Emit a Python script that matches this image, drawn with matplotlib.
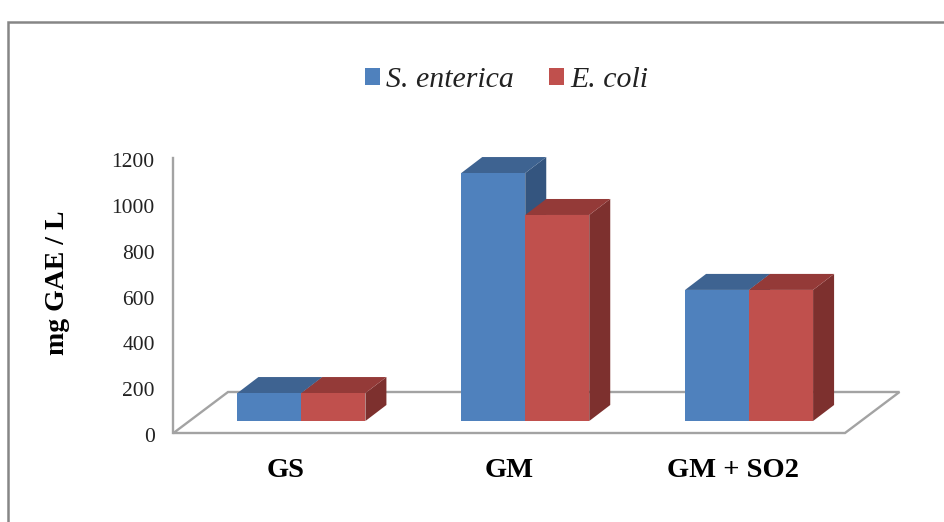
import matplotlib
matplotlib.use("Agg")
import matplotlib.pyplot as plt
from matplotlib.patches import Patch, Polygon
from matplotlib.lines import Line2D
from matplotlib.font_manager import FontProperties
from matplotlib.transforms import ScaledTranslation

categories = ["GS", "GM", "GM + SO2"]
s_enterica = [122, 1082, 572]
e_coli = [122, 899, 572]
y_ticks = [0, 200, 400, 600, 800, 1000, 1200]

W, H = 945, 522
L, R, T, B = 173.5, 845.0, 158.0, 433.0
FONT = "Liberation Serif"
AXC = "#A3A3A3"

fig = plt.figure(figsize=(W / 100, H / 100), dpi=100, facecolor="white")
ax = fig.add_axes([L / W, 1 - B / H, (R - L) / W, (B - T) / H])
ax.set_xlim(-0.5, 2.5)
ax.set_ylim(0, 1200)
ax.patch.set_alpha(0)

px_x = 3 / (R - L)
px_y = 1200 / (B - T)
bar_w = 64 * px_x
lift_x, lift_y = 16 * px_x, 12 * px_y
deep_x, deep_y = 21 * px_x, 16 * px_y
floor_x, floor_y = 54.5 * px_x, 41 * px_y

for s in ["top", "right", "bottom"]:
    ax.spines[s].set_visible(False)
ax.spines["left"].set_color(AXC)
ax.spines["left"].set_linewidth(1.7)

# floor of the 3D box
ax.add_patch(Polygon([(-0.5, 0), (2.5, 0), (2.5 + floor_x, floor_y), (-0.5 + floor_x, floor_y)],
                     closed=True, fc="white", ec=AXC, lw=1.7, clip_on=False, zorder=1, joinstyle="miter"))

series = [
    (s_enterica, "#4F81BD", "#3E6391", "#34557F", 0),
    (e_coli, "#C0504D", "#943A38", "#7D302E", 1),
]
z = 2
for i in range(len(categories)):
    for vals, front, top, side, k in series:
        x0 = i + lift_x + (k - 1) * bar_w
        x1 = x0 + bar_w
        y0 = lift_y
        y1 = lift_y + vals[i]
        ax.add_patch(Polygon([(x1, y0), (x1 + deep_x, y0 + deep_y), (x1 + deep_x, y1 + deep_y), (x1, y1)],
                             closed=True, fc=side, ec="none", clip_on=False, zorder=z))
        ax.add_patch(Polygon([(x0, y1), (x1, y1), (x1 + deep_x, y1 + deep_y), (x0 + deep_x, y1 + deep_y)],
                             closed=True, fc=top, ec="none", clip_on=False, zorder=z))
        ax.bar([x0 + bar_w / 2], [vals[i]], width=bar_w, bottom=y0, color=front, zorder=z + 0.5, clip_on=False)
        z += 1

ax.set_yticks(y_ticks)
ax.set_yticklabels([str(v) for v in y_ticks], fontfamily=FONT, fontsize=15.5, color="#222222")
ax.tick_params(axis="y", length=0, pad=13.5)
shift = ScaledTranslation(0, -1.5 / 72, fig.dpi_scale_trans)
for lab in ax.get_yticklabels():
    lab.set_transform(lab.get_transform() + shift)
ax.set_xticks(range(len(categories)))
ax.set_xticklabels(categories, fontfamily=FONT, fontsize=20.5, fontweight="bold", color="black")
ax.tick_params(axis="x", length=0, pad=18)
ax.set_ylabel("mg GAE / L", fontfamily=FONT, fontsize=20, fontweight="bold", color="black")
ax.yaxis.set_label_coords((70 - L) / (R - L), (B - 283) / (B - T))

handles = [Patch(fc="#4F81BD", ec="none"), Patch(fc="#C0504D", ec="none")]
fig.legend(handles, ["S. enterica", "E. coli"], ncol=2, frameon=False,
           prop=FontProperties(family=FONT, style="italic", size=21.5),
           handlelength=0.5, handleheight=0.5, handletextpad=0.2, columnspacing=1.2,
           loc="center", bbox_to_anchor=(506.5 / W, 1 - 80 / H), borderpad=0, labelcolor="#222222")

# outer frame (only top and left edges are inside the picture)
fig.add_artist(Line2D([8 / W, 8 / W, 1], [0, 1 - 22 / H, 1 - 22 / H], color="#868686", lw=1.8,
                      transform=fig.transFigure, solid_joinstyle="miter"))

fig.savefig("out.png", dpi=100, facecolor="white")
